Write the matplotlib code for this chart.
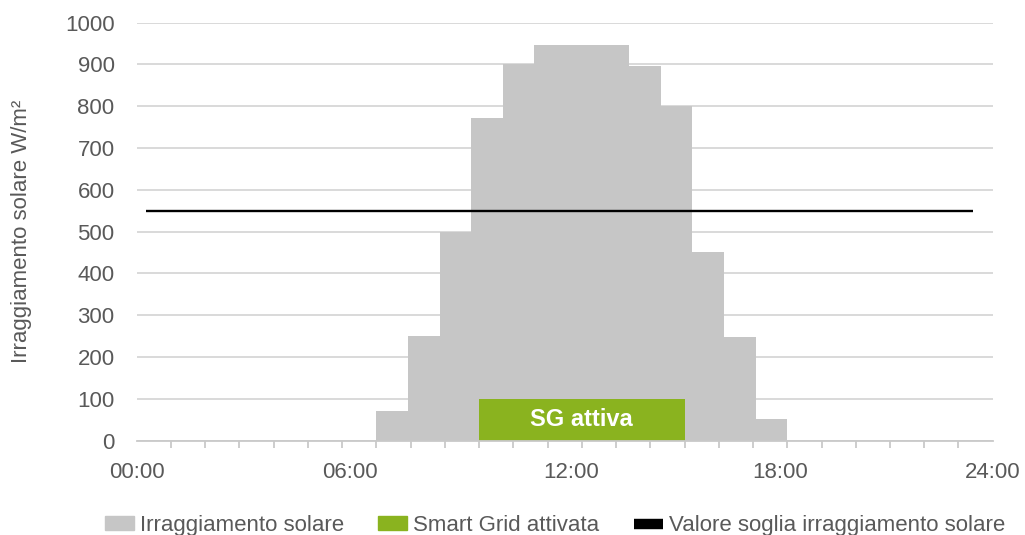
import numpy as np
import matplotlib.pyplot as plt
from matplotlib.patches import Patch
from matplotlib.lines import Line2D

# Hourly solar irradiance readings (W/m²)
irradiance = [72, 250, 500, 773, 900, 947, 947, 947, 897, 800, 452, 248, 52]
threshold = 550          # irradiance threshold for Smart Grid activation
sg_level = 100           # height of the "SG attiva" band
sg_text = "SG attiva"
time_labels = ["00:00", "06:00", "12:00", "18:00", "24:00"]
y_ticks = list(range(0, 1001, 100))
legend_labels = ["Irraggiamento solare", "Smart Grid attivata",
                 "Valore soglia irraggiamento solare"]
y_title = "Irraggiamento solare W/m²"

plt.rcParams['font.family'] = ['Liberation Sans', 'DejaVu Sans']

# Layout of the time axis (tick intervals along the day)
n_slots = 25
bar_span = (7, 19)
sg_span = (10, 16)
line_span = (0.26, 24.43)
label_pos = [0, 6.23, 12.7, 18.8, 25]

GRAY = '#c6c6c6'
GREEN = '#8ab31f'
TXT = '#595959'
AXC = '#c9c9c9'
FS = 16

fig = plt.figure(figsize=(10.25, 5.35), dpi=100)
ax = fig.add_axes([0.1334, 0.1763, 0.8351, 0.7813])

n = len(irradiance)
w = (bar_span[1] - bar_span[0]) / n
lefts = bar_span[0] + w * np.arange(n)
ax.bar(lefts, irradiance, width=w, align='edge', color=GRAY, linewidth=0, zorder=2)
ax.bar(sg_span[0], sg_level, width=sg_span[1] - sg_span[0], align='edge',
       color=GREEN, linewidth=0, zorder=3)
ax.text(np.mean(sg_span), sg_level / 2, sg_text, color='white', fontweight='bold',
        ha='center', va='center', fontsize=17, zorder=4)
ax.plot(line_span, [threshold, threshold], color='black', lw=1.7, zorder=4,
        solid_capstyle='butt')

ax.set_xlim(0, n_slots)
ax.set_ylim(0, 1000)
ax.set_yticks(y_ticks)
ax.grid(axis='y', color='#d3d3d3', lw=1.2, zorder=0)
ax.set_axisbelow(True)

for s in ['top', 'right', 'left']:
    ax.spines[s].set_visible(False)
ax.spines['bottom'].set_color(AXC)
ax.spines['bottom'].set_linewidth(1.3)
ax.spines['bottom'].set_zorder(5)

ax.set_xticks(label_pos)
ax.set_xticklabels(time_labels)
ax.set_xticks(np.arange(n_slots + 1), minor=True)
ax.tick_params(axis='x', which='major', length=0, pad=15, labelsize=FS, labelcolor=TXT)
ax.tick_params(axis='x', which='minor', length=5, width=1.3, color=AXC, direction='out')
ax.tick_params(axis='y', length=0, pad=16, labelsize=FS, labelcolor=TXT)

ax.set_ylabel(y_title, fontsize=FS, color=TXT, labelpad=24)

handles = [Patch(color=GRAY), Patch(color=GREEN),
           Line2D([], [], color='black', lw=7.5, solid_capstyle='butt')]
fig.legend(handles, legend_labels, loc='center', bbox_to_anchor=(0.5415, 0.0175),
           ncol=3, frameon=False, fontsize=FS, labelcolor=TXT,
           handlelength=1.3, handleheight=0.6, handletextpad=0.27,
           columnspacing=1.55, borderpad=0, borderaxespad=0)

fig.savefig('out.png', dpi=100)
